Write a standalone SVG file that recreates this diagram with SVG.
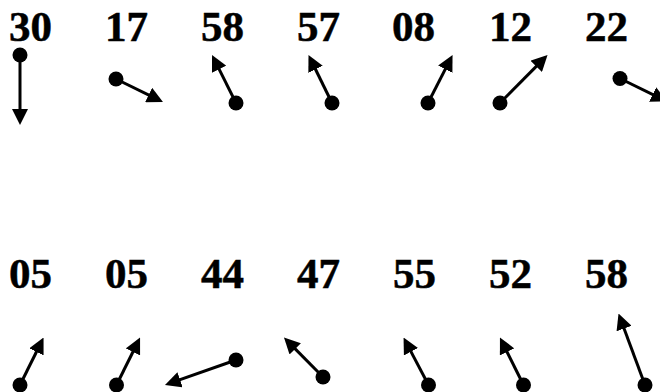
<svg xmlns="http://www.w3.org/2000/svg" width="660" height="392" viewBox="0 0 660 392">
<style>
.t{font-family:"Liberation Serif","Times New Roman",serif;font-weight:bold;font-size:43px;fill:#000;stroke:#000;stroke-width:0.5}
.h{stroke:#000;stroke-width:3;fill:none;marker-end:url(#ah)}
.d{fill:#000}
</style>
<defs>
<marker id="ah" markerUnits="userSpaceOnUse" markerWidth="16" markerHeight="16" refX="6" refY="8" orient="auto" viewBox="0 0 16 16">
<path d="M0,0 L16,8 L0,16 z" fill="#000"/>
</marker>
</defs>
<rect width="660" height="392" fill="#fff"/>
<g id="labels">
<g id="n1"><text class="t" x="9" y="41">30</text></g>
<g id="n2"><text class="t" x="105" y="41">17</text></g>
<g id="n3"><text class="t" x="201" y="41">58</text></g>
<g id="n4"><text class="t" x="297" y="41">57</text></g>
<g id="n5"><text class="t" x="392" y="41">08</text></g>
<g id="n6"><text class="t" x="489" y="41">12</text></g>
<g id="n7"><text class="t" x="585" y="41">22</text></g>
<g id="n8"><text class="t" x="9" y="288">05</text></g>
<g id="n9"><text class="t" x="105" y="288">05</text></g>
<g id="n10"><text class="t" x="201" y="288">44</text></g>
<g id="n11"><text class="t" x="297" y="288">47</text></g>
<g id="n12"><text class="t" x="393" y="288">55</text></g>
<g id="n13"><text class="t" x="489" y="288">52</text></g>
<g id="n14"><text class="t" x="585" y="288">58</text></g>
</g>
<g id="connectors">
<line class="h" x1="20" y1="55" x2="20" y2="115"/><circle class="d" cx="20" cy="55" r="7.5"/>
<line class="h" x1="116" y1="79" x2="154" y2="97.6"/><circle class="d" cx="116" cy="79" r="7.5"/>
<line class="h" x1="236" y1="103" x2="216.5" y2="63.9"/><circle class="d" cx="236" cy="103" r="7.5"/>
<line class="h" x1="332" y1="103" x2="312.9" y2="64"/><circle class="d" cx="332" cy="103" r="7.5"/>
<line class="h" x1="428" y1="103" x2="448" y2="63.9"/><circle class="d" cx="428" cy="103" r="7.5"/>
<line class="h" x1="500" y1="103" x2="540.5" y2="62.1"/><circle class="d" cx="500" cy="103" r="7.5"/>
<line class="h" x1="620" y1="78.5" x2="658" y2="97.1"/><circle class="d" cx="620" cy="78.5" r="7.5"/>
<line class="h" x1="20" y1="385" x2="39.1" y2="346.5"/><circle class="d" cx="20" cy="385" r="7.5"/>
<line class="h" x1="116.5" y1="385" x2="135.6" y2="346.5"/><circle class="d" cx="116.5" cy="385" r="7.5"/>
<line class="h" x1="236" y1="360" x2="174.4" y2="381.7"/><circle class="d" cx="236" cy="360" r="7.5"/>
<line class="h" x1="323" y1="377" x2="291" y2="344.6"/><circle class="d" cx="323" cy="377" r="7.5"/>
<line class="h" x1="428.5" y1="385" x2="408.2" y2="346.4"/><circle class="d" cx="428.5" cy="385" r="7.5"/>
<line class="h" x1="523.5" y1="385" x2="504.4" y2="346.5"/><circle class="d" cx="523.5" cy="385" r="7.5"/>
<line class="h" x1="645" y1="385" x2="622" y2="322.9"/><circle class="d" cx="645" cy="385" r="7.5"/>
</g>
</svg>
